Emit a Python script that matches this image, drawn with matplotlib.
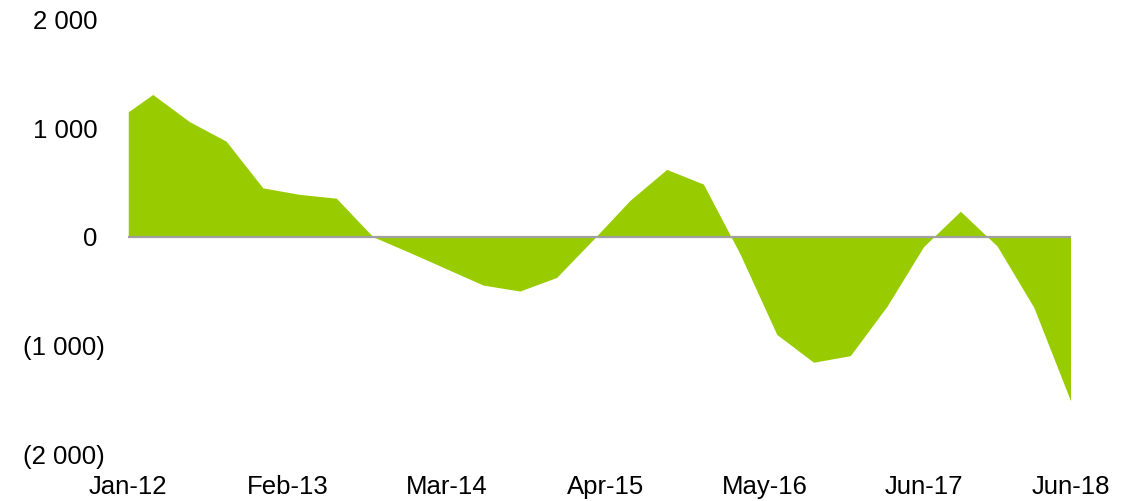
import matplotlib
matplotlib.use('Agg')
import matplotlib.pyplot as plt
from matplotlib.transforms import ScaledTranslation

# quarterly values (month-end), plotted on a monthly axis
dates = ['2012-01', '2012-03', '2012-06', '2012-09', '2012-12',
         '2013-03', '2013-06', '2013-09', '2013-12',
         '2014-03', '2014-06', '2014-09', '2014-12',
         '2015-03', '2015-06', '2015-09', '2015-12',
         '2016-03', '2016-06', '2016-09', '2016-12',
         '2017-03', '2017-06', '2017-09', '2017-12',
         '2018-03', '2018-06']
values = [1150, 1310, 1060, 880, 450,
          390, 355, 0, -145,
          -295, -445, -500, -375,
          -25, 335, 620, 485,
          -160, -900, -1155, -1095,
          -640, -90, 235, -85,
          -650, -1510]

tick_months = [0, 13, 26, 39, 52, 65, 77]
tick_labels = ['Jan-12', 'Feb-13', 'Mar-14', 'Apr-15', 'May-16', 'Jun-17', 'Jun-18']
y_ticks = [2000, 1000, 0, -1000, -2000]
y_labels = ['2 000', '1 000', '0', '(1 000)', '(2 000)']

# months since Jan-12
x = [(int(d[:4]) - 2012) * 12 + int(d[5:]) - 1 for d in dates]

plt.rcParams['font.family'] = ['Liberation Sans', 'DejaVu Sans']

fig = plt.figure(figsize=(11.43, 5.01), dpi=100)
ax = fig.add_axes([0.1122, 0.0938, 0.8244, 0.8673])

ax.fill_between(x, 0, values, color='#99CC00', linewidth=0, zorder=2)
ax.axhline(0, color='#A0A0A0', linewidth=1.6, zorder=3)

ax.set_xlim(0, 77)
ax.set_ylim(-2000, 2000)

ax.set_xticks(tick_months)
ax.set_xticklabels(tick_labels, fontsize=18.5)
ax.set_yticks(y_ticks)
ax.set_yticklabels(y_labels, fontsize=18.5)
ax.tick_params(axis='both', length=0, colors='black')
ax.tick_params(axis='x', pad=15)
ax.tick_params(axis='y', pad=17)

# positive labels keep room for the closing bracket
for lab, v in zip(ax.get_yticklabels(), y_ticks):
    if v >= 0:
        lab.set_transform(lab.get_transform() + ScaledTranslation(-7 / 100, 0, fig.dpi_scale_trans))

for s in ax.spines.values():
    s.set_visible(False)

fig.savefig('out.png', dpi=100)
